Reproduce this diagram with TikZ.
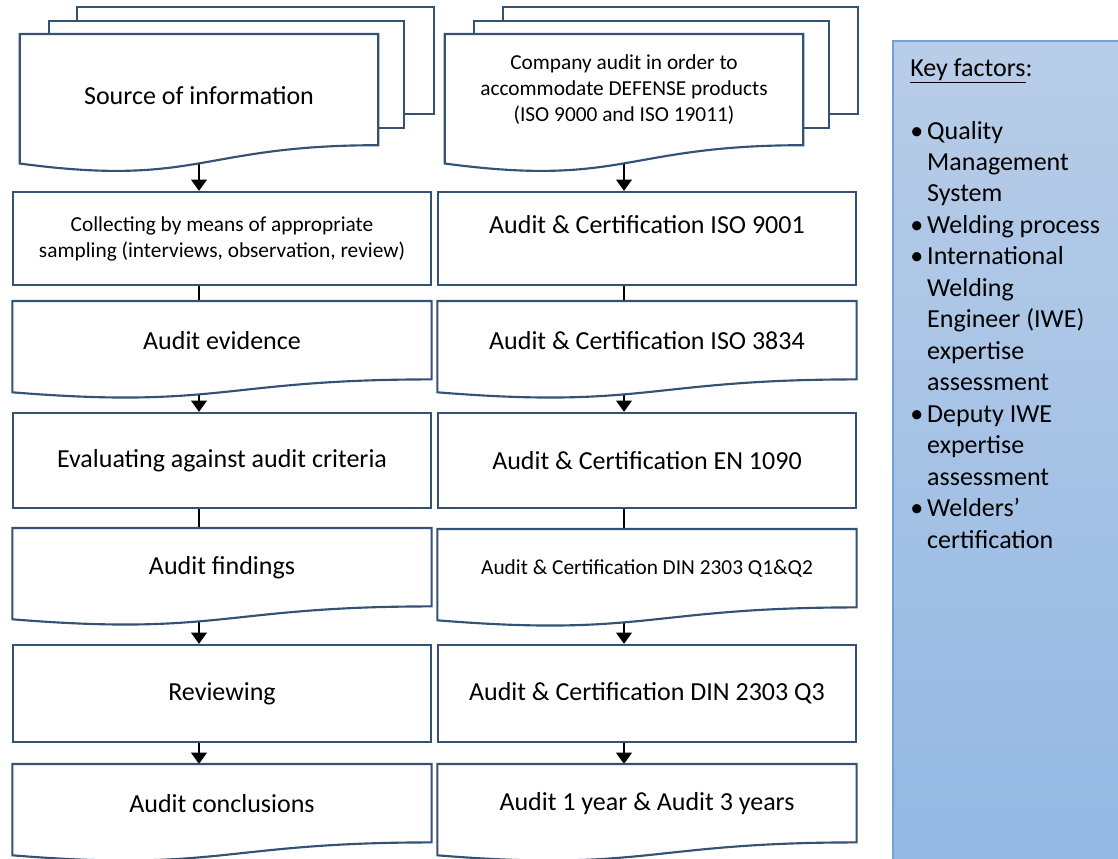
\documentclass[tikz,border=0pt]{standalone}
\usepackage{fontspec}
\setmainfont{Carlito}
\usetikzlibrary{arrows.meta,calc}

\pgfdeclarelayer{back}
\pgfdeclarelayer{sheets}
\pgfsetlayers{back,sheets,main}

\definecolor{boxedge}{RGB}{52,82,115}
\definecolor{keytop}{RGB}{184,205,232}
\definecolor{keybot}{RGB}{147,184,227}
\definecolor{keyedge}{RGB}{118,160,212}

\newcommand\bigtxt{\fontsize{19.5}{23.6}\selectfont}
\newcommand\smalltxt{\fontsize{16}{19.5}\selectfont}
\newcommand\keybullet{\textbullet\hspace{3pt}}
\newcommand\keyindent{\hphantom{\keybullet}}

% sheet with a wavy foot, drawn round the text node #1
\newcommand\docsheet[1]{%
  \begin{pgfonlayer}{sheets}
  \draw[sheet] let \p1=(#1.north west), \p2=(#1.south east), \n1={\y1-\y2} in
    (\x1,\y1) -- (\x2,\y1) -- (\x2,\y2)
    .. controls ({(\x1+\x2)/2},\y2) and ({(\x1+\x2)/2},{\y2-0.381*\n1}) .. (\x1,{\y2-0.1646*\n1}) -- cycle;
  \end{pgfonlayer}}

\begin{document}
\begin{tikzpicture}[x=0.75pt,y=-0.75pt,
  sheet/.style={draw=boxedge,line width=1.6pt,fill=white},
  box/.style={sheet,align=center,font=\bigtxt,inner sep=0pt,minimum width=314pt},
  doc/.style={align=center,font=\bigtxt,inner sep=0pt,anchor=north,minimum width=314pt,minimum height=58.4pt},
  multi/.style={doc,minimum width=268.5pt,minimum height=83pt},
  flow/.style={-{Triangle[width=11.5pt,length=8.5pt]},line width=2.2pt},
  link/.style={line width=2.2pt}]
\useasboundingbox (0,0) rectangle (1118,858);

% key factors panel
\path[top color=keytop,bottom color=keybot,draw=keyedge,line width=0.8pt] (893,41) rectangle (1125,865);
\node[anchor=north west,align=left,font=\bigtxt,inner sep=0pt] (keys) at (910,58) {\underline{Key factors}:\\
\mbox{}\\
\keybullet Quality\\
\keyindent Management\\
\keyindent System\\
\keybullet Welding process\\
\keybullet International\\
\keyindent Welding\\
\keyindent Engineer (IWE)\\
\keyindent expertise\\
\keyindent assessment\\
\keybullet Deputy IWE\\
\keyindent expertise\\
\keyindent assessment\\
\keybullet Welders’\\
\keyindent certification};

% stacked sheets behind the two sources
\begin{pgfonlayer}{sheets}
\draw[sheet] (404,114) -- (434,114) -- (434,7) -- (77,7) -- (77,21);
\draw[sheet] (378,128) -- (404,128) -- (404,21) -- (49,21) -- (49,34);
\draw[sheet] (829,114) -- (858,114) -- (858,7) -- (503,7) -- (503,21);
\draw[sheet] (803,128) -- (829,128) -- (829,21) -- (474,21) -- (474,34);
\end{pgfonlayer}

% left column
\node[multi,text height=23pt] (source) at (199,34) {Source of information};
\node[box,font=\smalltxt,minimum height=69.75pt] (collect) at (222,238.5) {Collecting by means of appropriate\\sampling (interviews, observation, review)};
\node[doc] (evidence) at (222,301) {Audit evidence};
\node[box,minimum height=71.25pt] (evaluate) at (222,460.5) {Evaluating against audit criteria};
\node[doc] (findings) at (222,528) {Audit findings};
\node[box,minimum height=72.75pt] (review) at (222,693.5) {Reviewing};
\node[doc] (conclude) at (222,764) {Audit conclusions};

% right column
\node[multi,font=\smalltxt] (company) at (624,34) {Company audit in order to\\accommodate DEFENSE products\\(ISO 9000 and ISO 19011)};
\node[box,minimum height=69.75pt,text depth=21pt] (iso9001) at (647,238.5) {Audit \& Certification ISO 9001};
\node[doc] (iso3834) at (647,301) {Audit \& Certification ISO 3834};
\node[box,minimum height=71.25pt] (en1090) at (647,460.5) {Audit \& Certification EN 1090};
\node[doc,font=\smalltxt] (dinq12) at (647,529) {Audit \& Certification DIN 2303 Q1\&Q2};
\node[box,minimum height=72.75pt] (dinq3) at (647,693.5) {Audit \& Certification DIN 2303 Q3};
\node[doc] (recert) at (647,764) {Audit 1 year \& Audit 3 years};

\docsheet{source}
\docsheet{evidence}
\docsheet{findings}
\docsheet{conclude}
\docsheet{company}
\docsheet{iso3834}
\docsheet{dinq12}
\docsheet{recert}

% connectors
\begin{pgfonlayer}{back}
\draw[flow] (source) -- (collect.north -| source);
\draw[link] (collect -| source) -- (evidence.north -| source);
\draw[flow] (evidence -| source) -- (evaluate.north -| source);
\draw[link] (evaluate -| source) -- (findings.north -| source);
\draw[flow] (findings -| source) -- (review.north -| source);
\draw[flow] (review -| source) -- (conclude.north -| source);
\draw[flow] (company) -- (iso9001.north -| company);
\draw[link] (iso9001 -| company) -- (iso3834.north -| company);
\draw[flow] (iso3834 -| company) -- (en1090.north -| company);
\draw[link] (en1090 -| company) -- (dinq12.north -| company);
\draw[flow] (dinq12 -| company) -- (dinq3.north -| company);
\draw[flow] (dinq3 -| company) -- (recert.north -| company);
\end{pgfonlayer}
\end{tikzpicture}
\end{document}
